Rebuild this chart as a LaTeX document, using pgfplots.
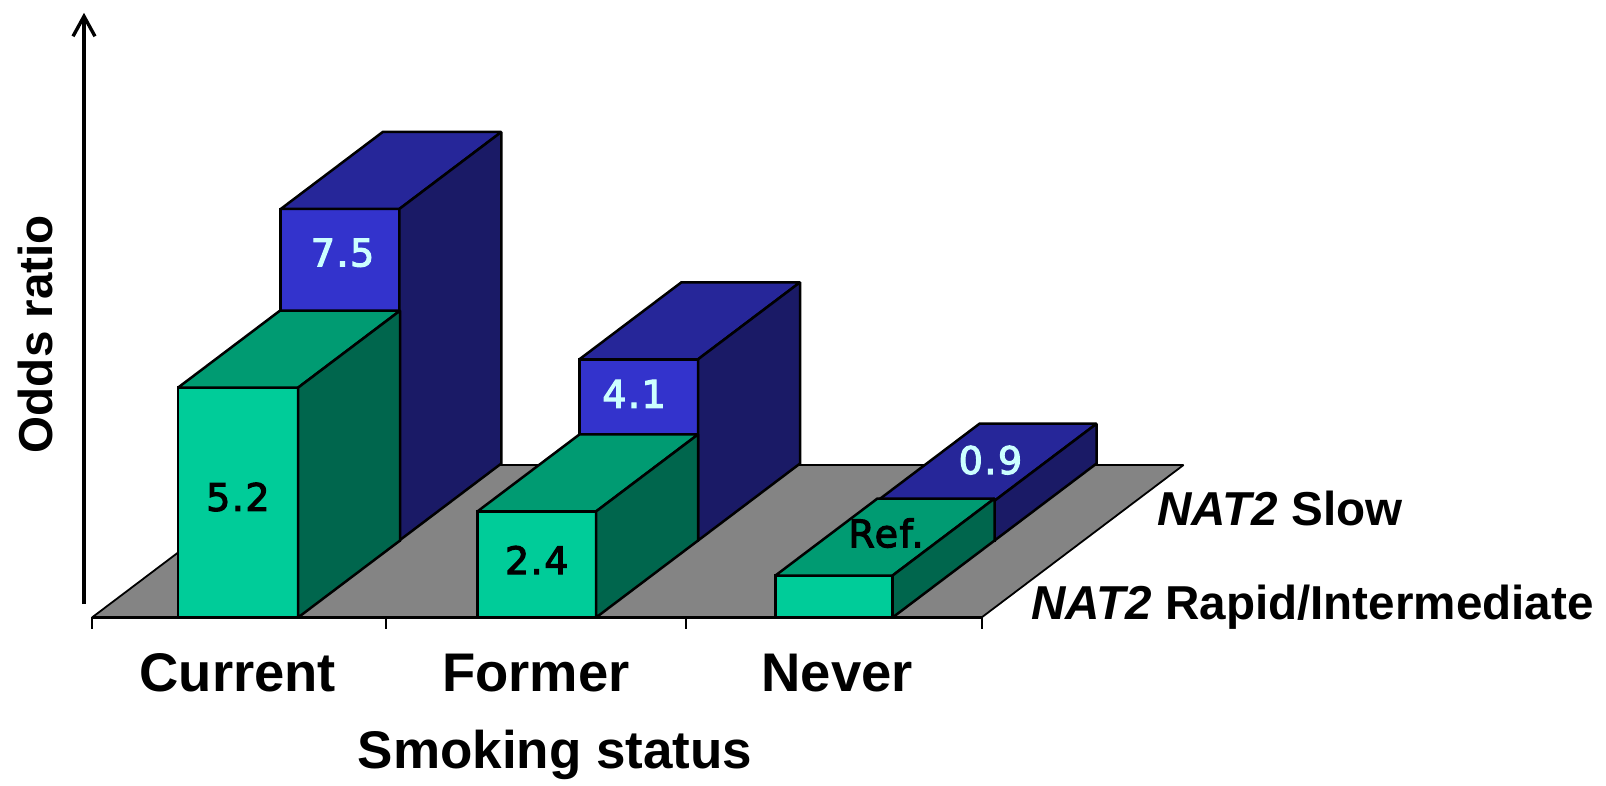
\documentclass[border=0pt]{standalone}
\usepackage{fontspec}
\setmainfont{Liberation Sans}
\newfontfamily\valuefont[FakeBold=3,LetterSpace=4]{DejaVu Sans}
\usepackage{pgfplots}
\pgfplotsset{compat=1.18}
\usetikzlibrary{arrows.meta}

\definecolor{greenfront}{HTML}{00CC99}
\definecolor{greentop}{HTML}{009B72}
\definecolor{greenside}{HTML}{00664D}
\definecolor{bluefront}{HTML}{3333CC}
\definecolor{bluetop}{HTML}{262699}
\definecolor{blueside}{HTML}{1A1A66}
\definecolor{floorgrey}{HTML}{848484}
\definecolor{valuecyan}{HTML}{CCFFFF}

% One oblique bar: x0, x1, y0, y1, odds ratio, front, top and side colours
\tikzset{barface/.style={fill=#1,draw=black,line width=1.25pt,line join=miter,miter limit=1.5}}
\newcommand{\drawbar}[8]{%
  \addplot3[barface=#6] coordinates {(#1,#3,0) (#2,#3,0) (#2,#3,#5) (#1,#3,#5)} --cycle;
  \addplot3[barface=#7] coordinates {(#1,#3,#5) (#2,#3,#5) (#2,#4,#5) (#1,#4,#5)} --cycle;
  \addplot3[barface=#8] coordinates {(#2,#3,0) (#2,#4,0) (#2,#4,#5) (#2,#3,#5)} --cycle;
}
\newcommand{\slowbar}[3]{\drawbar{#1}{#2}{1}{2}{#3}{bluefront}{bluetop}{blueside}}
\newcommand{\rapidbar}[3]{\drawbar{#1}{#2}{0}{1}{#3}{greenfront}{greentop}{greenside}}

\begin{document}
\begin{tikzpicture}
\begin{axis}[
  x={(148.25pt,0pt)}, y={(51pt,38.5pt)}, z={(0pt,22.1pt)},
  xmin=-0.3103, xmax=5.106, ymin=0, ymax=2, zmin=-3.79, zmax=13.97,
  hide axis, clip=false, no markers,
]
% page corners of the drawing
\coordinate (bl) at (axis cs:-0.3103,0,-3.79);
\coordinate (tr) at (axis cs:5.106,0,13.97);

% floor, base line and category ticks
\addplot3[fill=floorgrey,draw=black,line width=0.9pt,line join=miter,miter limit=1.5] coordinates {(0,0,0) (3,0,0) (3,1.98,0) (0,1.98,0)} --cycle;
\addplot3[black,line width=1.3pt] coordinates {(0,0,0) (3,0,0)};
\addplot3[black,line width=1pt] coordinates {(0,0,0) (0,0,-0.27)};
\addplot3[black,line width=1pt] coordinates {(0.993,0,0) (0.993,0,-0.27)};
\addplot3[black,line width=1pt] coordinates {(2.003,0,0) (2.003,0,-0.27)};
\addplot3[black,line width=1pt] coordinates {(3,0,0) (3,0,-0.27)};

% odds ratio arrow
\addplot3[black,line width=1.7pt,-{Straight Barb[length=10pt,width=11pt]}] coordinates {(-0.027,0,0.3) (-0.027,0,13.68)};

% bars, back row first
\slowbar{0.2925}{0.6925}{7.5}
\rapidbar{0.29}{0.695}{5.2}
\slowbar{1.3}{1.7}{4.1}
\rapidbar{1.3}{1.7}{2.4}
\slowbar{2.305}{2.7}{0.9}
\rapidbar{2.305}{2.7}{0.95}

% values on the bars
\begin{scope}[every node/.style={inner sep=0pt,font=\valuefont\fontsize{19}{19}\selectfont}]
\node[text=valuecyan] at (axis cs:0.845,0,8.25) {7.5};
\node[text=black]     at (axis cs:0.492,0,2.725) {5.2};
\node[text=valuecyan] at (axis cs:1.828,0,5.06) {4.1};
\node[text=black]     at (axis cs:1.5,0,1.30) {2.4};
\node[text=valuecyan] at (axis cs:3.03,0,3.56) {0.9};
\node[text=black]     at (axis cs:2.678,0,1.91) {Ref.};
\end{scope}

% category, axis and row names
\begin{scope}[every node/.style={inner sep=0pt,font=\bfseries\fontsize{27.2}{27}\selectfont}]
\node at (axis cs:0.492,0,-1.256) {Current};
\node at (axis cs:1.4975,0,-1.256) {Former};
\node at (axis cs:2.513,0,-1.256) {Never};
\end{scope}
\node[inner sep=0pt,font=\bfseries\fontsize{26.5}{27}\selectfont] at (axis cs:1.562,0,-3.11) {Smoking status};
\begin{scope}[every node/.style={inner sep=0pt,font=\bfseries\fontsize{23.8}{24}\selectfont}]
\node[rotate=90] at (axis cs:-0.189,0,6.41) {Odds ratio};
\node at (axis cs:4.007,0,2.477) {\textit{NAT2} Slow};
\node at (axis cs:4.116,0,0.24) {\textit{NAT2} Rapid/Intermediate};
\end{scope}
\end{axis}
\pgfresetboundingbox
\path[use as bounding box] (bl) rectangle (tr);
\end{tikzpicture}
\end{document}
